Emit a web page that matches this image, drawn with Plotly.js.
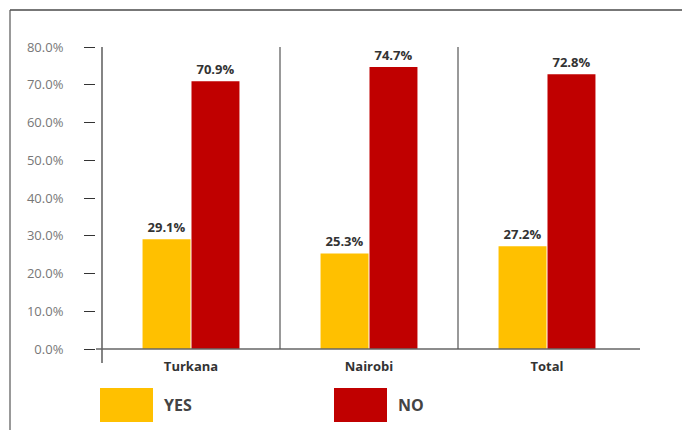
<!DOCTYPE html>
<html>
<head>
<meta charset="utf-8">
<script src="https://cdn.plot.ly/plotly-3.0.1.min.js"></script>
<style>html,body{margin:0;padding:0;background:#fff;}#chart{width:682px;height:430px;}</style>
</head>
<body>
<div id="chart"></div>
<script>
const categories = ["Turkana", "Nairobi", "Total"];
const yesValues = [29.1, 25.3, 27.2];
const noValues = [70.9, 74.7, 72.8];
const seriesNames = ["YES", "NO"];
const seriesColors = ["#FFC000", "#C00000"];
const yTicks = [0, 10, 20, 30, 40, 50, 60, 70, 80];

const W = 682, H = 430;
const px = v => v / W;
const py = v => 1 - v / H;

const fontFam = '"Open Sans", "Noto Sans", sans-serif';

function barTrace(name, vals, color) {
  return {
    type: 'bar', name: name, x: categories, y: vals,
    marker: {color: color},
    text: vals.map(v => v.toFixed(1) + '%'),
    textposition: 'outside',
    textfont: {family: fontFam, size: 13, color: '#333', weight: 700},
    cliponaxis: false,
    hoverinfo: 'none'
  };
}

const data = [
  barTrace(seriesNames[0], yesValues, seriesColors[0]),
  barTrace(seriesNames[1], noValues, seriesColors[1])
];

const shapes = [
  {type:'line', xref:'paper', yref:'paper', x0:px(10), x1:1, y0:py(10), y1:py(10), line:{color:'#777', width:2}},
  {type:'line', xref:'paper', yref:'paper', x0:px(10), x1:px(10), y0:py(10), y1:0, line:{color:'#555', width:1.2}},
  {type:'line', xref:'paper', yref:'paper', x0:px(102), x1:px(102), y0:py(47), y1:py(363), line:{color:'#333', width:1.2}},
  {type:'line', xref:'paper', yref:'paper', x0:px(96), x1:px(640), y0:py(349), y1:py(349), line:{color:'#666', width:1.5}}
];
for (let i = 0; i < categories.length - 1; i++) {
  shapes.push({type:'line', xref:'x', yref:'paper', x0:i+0.5, x1:i+0.5, y0:py(349), y1:py(47), line:{color:'#555', width:1.2}});
}
const legendX = [100, 334];
const annotations = [];
seriesNames.forEach((n, i) => {
  shapes.push({type:'rect', xref:'paper', yref:'paper', x0:px(legendX[i]), x1:px(legendX[i]+53), y0:py(388), y1:py(422), fillcolor:seriesColors[i], line:{width:0}});
  annotations.push({xref:'paper', yref:'paper', x:px(legendX[i]+62), y:py(405), xanchor:'left', yanchor:'middle', text:'<b>'+n+'</b>', showarrow:false, font:{family:fontFam, size:16, color:'#444'}});
});

const layout = {
  width: W, height: H,
  margin: {l:0, r:0, t:0, b:0},
  paper_bgcolor: '#fff', plot_bgcolor: '#fff',
  showlegend: false,
  barmode: 'group', bargap: 0.45, bargroupgap: 0.02,
  xaxis: {
    domain: [px(102), px(636)],
    range: [-0.5, 2.5],
    showline: false, showgrid: false, zeroline: false, ticks: '',
    ticklabelstandoff: 8,
    tickfont: {family: fontFam, size: 13, color: '#333', weight: 700},
    fixedrange: true
  },
  yaxis: {
    domain: [py(349), py(47)],
    range: [0, 80],
    anchor: 'free', position: px(95),
    tickvals: yTicks, ticktext: yTicks.map(v => v.toFixed(1) + '%'),
    ticks: 'outside', ticklen: 11, tickwidth: 1, tickcolor: '#333',
    ticklabelstandoff: 18,
    showline: false, showgrid: false, zeroline: false,
    tickfont: {family: fontFam, size: 13, color: '#777'},
    fixedrange: true
  },
  shapes: shapes,
  annotations: annotations,
  font: {family: fontFam}
};

Plotly.newPlot('chart', data, layout, {displayModeBar: false, staticPlot: true});
</script>
</body>
</html>
